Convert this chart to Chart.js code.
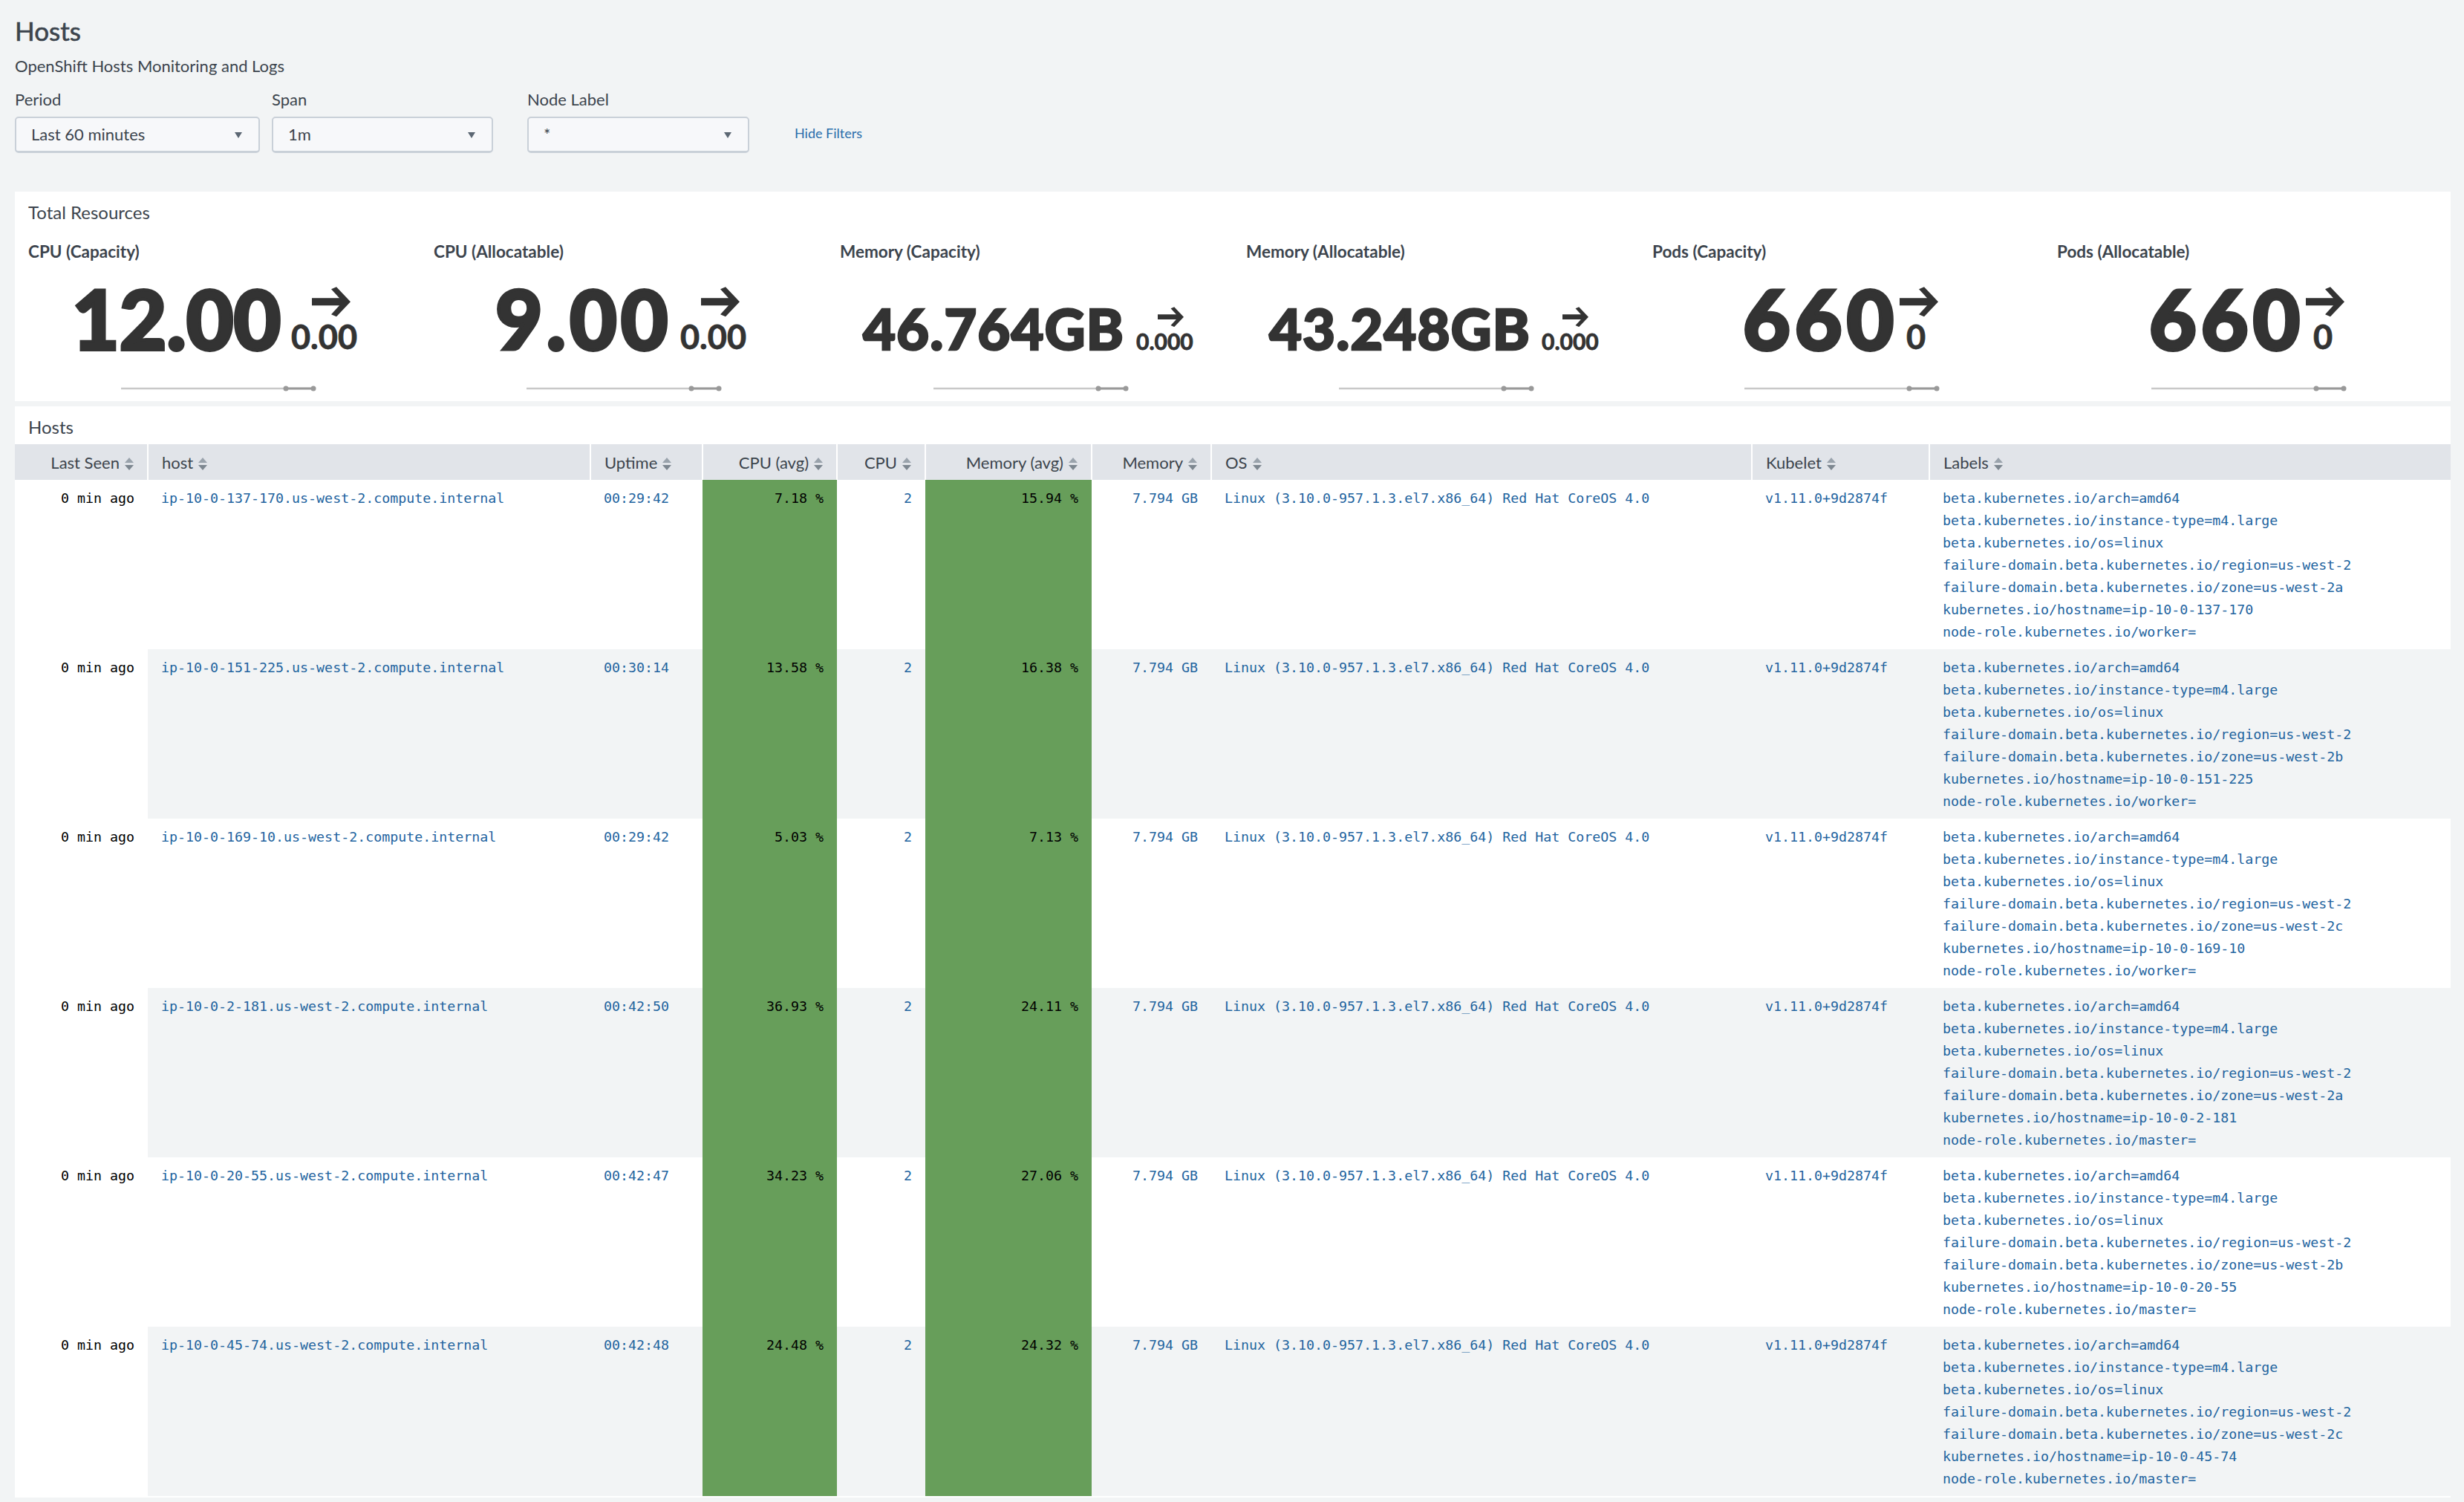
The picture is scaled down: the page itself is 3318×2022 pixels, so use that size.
<!DOCTYPE html>
<html>
<head>
<meta charset="utf-8">
<title>Hosts</title>
<script src="https://cdn.jsdelivr.net/npm/chart.js@4/dist/chart.umd.js"></script>
<style>
  html, body { margin: 0; padding: 0; width: 3318px; height: 2022px; overflow: hidden; background: #f2f4f5; }
  body { position: relative; font-family: Lato, sans-serif; color: #3c444d; }
  .abs { position: absolute; white-space: nowrap; }
  .panel { position: absolute; left: 20px; width: 3280px; background: #fff; }
  .select { position: absolute; top: 157px; height: 44px; background: #f7f8fa; border: 2px solid #c9d0d8; border-bottom-width: 3px; border-radius: 5px; box-sizing: content-box; }
  .select span { position: absolute; left: 20px; top: 8px; font-size: 22px; line-height: 28px; color: #3c444d; }
  .select i { position: absolute; right: 22px; top: 19px; border-left: 5px solid transparent; border-right: 5px solid transparent; border-top: 8px solid #5c6773; }
  canvas { position: absolute; }
  table { position: absolute; left: 20px; top: 598px; width: 3280px; border-collapse: collapse; table-layout: fixed; }
  th { height: 48px; padding: 0 18px; background: #e1e4e9; border-right: 2px solid #fff; font-size: 22px; font-weight: 400; color: #3c444d; box-sizing: border-box; white-space: nowrap; }
  th:last-child { border-right: 0; }
  th .sort { display: inline-block; width: 12px; height: 17px; margin-left: 7px; position: relative; vertical-align: -2px; }
  .sort::before, .sort::after { content: ''; position: absolute; left: 0; border-left: 6px solid transparent; border-right: 6px solid transparent; }
  .sort::before { top: 0; border-bottom: 7px solid #9aa3ac; }
  .sort::after { bottom: 0; border-top: 7px solid #7d8790; }
  td { height: 228px; padding: 10px 18px 0; box-sizing: border-box; vertical-align: top; font-family: "DejaVu Sans Mono", monospace; font-size: 18.3px; line-height: 30px; color: #23649f; white-space: nowrap; overflow: hidden; }
  tr:nth-child(even) td { background: #f2f4f5; }
  tr td:first-child { background: #fff !important; color: #000; }
  td.heat { color: #000; background: #679e5a !important; }
  .num { text-align: right; }
  .txt { text-align: left; }
</style>
</head>
<body>
<div class="abs" style="left:20px;top:19px;font-size:35px;line-height:44px;-webkit-text-stroke:0.6px #3c444d">Hosts</div>
<div class="abs" style="left:20px;top:74px;font-size:22px;line-height:30px">OpenShift Hosts Monitoring and Logs</div>
<div id="filters"></div>
<div class="abs" style="left:1070px;top:166px;font-size:18px;line-height:26px;color:#2a6dab">Hide Filters</div>

<div class="panel" style="top:258px;height:282px"></div>
<div class="abs" style="left:38px;top:271px;font-size:24px;line-height:30px">Total Resources</div>
<div id="singles"></div>

<div class="panel" style="top:547px;height:1469px"></div>
<div class="abs" style="left:38px;top:560px;font-size:24px;line-height:30px">Hosts</div>
<table id="hostsTable"></table>

<script>
// filter bar
const filterNames = ['Period', 'Span', 'Node Label'];
const filterValues = ['Last 60 minutes', '1m', '*'];

// single value panels
const singleTitles = ['CPU (Capacity)', 'CPU (Allocatable)', 'Memory (Capacity)', 'Memory (Allocatable)', 'Pods (Capacity)', 'Pods (Allocatable)'];
const singleValues = ['12.00', '9.00', '46.764GB', '43.248GB', '660', '660'];
const singleDeltas = ['0.00', '0.00', '0.000', '0.000', '0', '0'];

// sparkline series, flat over the whole period
const sparkLabels = ['1', '2', '3', '4', '5', '6', '7', '8'];
const sparkCpuCapacity = [12, 12, 12, 12, 12, 12, 12, 12];
const sparkCpuAllocatable = [9, 9, 9, 9, 9, 9, 9, 9];
const sparkMemCapacity = [46.764, 46.764, 46.764, 46.764, 46.764, 46.764, 46.764, 46.764];
const sparkMemAllocatable = [43.248, 43.248, 43.248, 43.248, 43.248, 43.248, 43.248, 43.248];
const sparkPodsCapacity = [660, 660, 660, 660, 660, 660, 660, 660];
const sparkPodsAllocatable = [660, 660, 660, 660, 660, 660, 660, 660];
const sparkSeries = [sparkCpuCapacity, sparkCpuAllocatable, sparkMemCapacity, sparkMemAllocatable, sparkPodsCapacity, sparkPodsAllocatable];

// hosts table
const hostColumns = ['Last Seen', 'host', 'Uptime', 'CPU (avg)', 'CPU', 'Memory (avg)', 'Memory', 'OS', 'Kubelet', 'Labels'];
const hostNames = ['ip-10-0-137-170', 'ip-10-0-151-225', 'ip-10-0-169-10', 'ip-10-0-2-181', 'ip-10-0-20-55', 'ip-10-0-45-74'];
const lastSeen = ['0 min ago', '0 min ago', '0 min ago', '0 min ago', '0 min ago', '0 min ago'];
const uptimes = ['00:29:42', '00:30:14', '00:29:42', '00:42:50', '00:42:47', '00:42:48'];
const cpuAvg = [7.18, 13.58, 5.03, 36.93, 34.23, 24.48];
const cpuCount = [2, 2, 2, 2, 2, 2];
const memAvg = [15.94, 16.38, 7.13, 24.11, 27.06, 24.32];
const memoryGb = [7.794, 7.794, 7.794, 7.794, 7.794, 7.794];
const osNames = Array(6).fill('Linux (3.10.0-957.1.3.el7.x86_64) Red Hat CoreOS 4.0');
const kubelets = Array(6).fill('v1.11.0+9d2874f');
const zones = ['a', 'b', 'c', 'a', 'b', 'c'];
const roles = ['worker', 'worker', 'worker', 'master', 'master', 'master'];

// layout, in page pixels
const filterX = [20, 366, 710];
const filterW = [326, 294, 295];
const columnWidths = [179, 596, 151, 181, 119, 224, 161, 728, 239, 702];
const columnAlign = ['num', 'txt', 'txt', 'num', 'num', 'num', 'num', 'txt', 'txt', 'txt'];
const titleX = [38, 584, 1131, 1678, 2225, 2770];
const valueX = [97, 667, 1162, 1709, 2347, 2894];
const valueSize = [110, 110, 76, 76, 110, 110];
const valueSpacing = [0, 5, 1, 1, 6, 6];
const deltaX = [392, 916, 1530, 2076, 2567, 3115];
const deltaSize = [45, 45, 30, 30, 45, 45];
const arrowX = [420, 944, 1559, 2104, 2558, 3105];
const arrowW = [52, 52, 35, 35, 52, 52];
const sparkX = [163, 709, 1257, 1803, 2349, 2897];
const baselineY = 471;

const addAbs = (parent, html, left, top, style) => {
  const el = document.createElement('div');
  el.className = 'abs';
  el.style.cssText = `left:${left}px;top:${top}px;${style || ''}`;
  el.innerHTML = html;
  parent.appendChild(el);
  return el;
};

const renderFilters = () => {
  const root = document.getElementById('filters');
  filterNames.forEach((name, i) => {
    addAbs(root, name, filterX[i], 119, 'font-size:22px;line-height:30px');
    const box = document.createElement('div');
    box.className = 'select';
    box.style.left = `${filterX[i]}px`;
    box.style.width = `${filterW[i]}px`;
    box.innerHTML = `<span>${filterValues[i]}</span><i></i>`;
    root.appendChild(box);
  });
};

const arrowSvg = (width) => {
  const height = width * 0.78;
  return `<svg width="${width}" height="${height}" viewBox="0 0 52 40"><path d="M0 15H37L26 3L33 0L52 20L33 40L26 37L37 25H0Z" fill="#333"/></svg>`;
};

const renderSingles = () => {
  const root = document.getElementById('singles');
  singleTitles.forEach((title, i) => {
    addAbs(root, title, titleX[i], 324, 'font-size:22.5px;line-height:30px;font-weight:700');
    const size = valueSize[i];
    const stroke = size > 100 ? 4 : 2.5;
    addAbs(root, singleValues[i], valueX[i], baselineY - 0.887 * size, `font-size:${size}px;line-height:${size}px;font-weight:900;color:#333;letter-spacing:${valueSpacing[i]}px;-webkit-text-stroke:${stroke}px #333`);
    const dSize = deltaSize[i];
    addAbs(root, singleDeltas[i], deltaX[i], baselineY - 0.887 * dSize, `font-size:${dSize}px;line-height:${dSize}px;font-weight:700;color:#333;-webkit-text-stroke:0.8px #333`);
    const arrowTop = size > 100 ? 386 : 413;
    addAbs(root, arrowSvg(arrowW[i]), arrowX[i], arrowTop);
  });
};

const renderSparklines = () => {
  sparkSeries.forEach((series, i) => {
    const canvas = document.createElement('canvas');
    canvas.width = 275;
    canvas.height = 30;
    canvas.style.left = `${sparkX[i] - 8}px`;
    canvas.style.top = '508px';
    document.body.appendChild(canvas);
    const lastTwo = series.map((v, j) => (j >= series.length - 2 ? v : null));
    new Chart(canvas, {
      type: 'line',
      data: {
        labels: sparkLabels,
        datasets: [
          { data: lastTwo, borderColor: '#999', borderWidth: 3, pointRadius: 3.5, pointBackgroundColor: '#999', pointBorderWidth: 0 },
          { data: series, borderColor: '#c8c8c8', borderWidth: 2.5, pointRadius: 0 },
        ],
      },
      options: {
        responsive: false,
        animation: false,
        layout: { padding: { left: 8, right: 8 } },
        plugins: { legend: { display: false }, tooltip: { enabled: false } },
        scales: {
          x: { display: false },
          y: { display: false, min: series[0] - 1, max: series[0] + 1 },
        },
      },
    });
  });
};

const renderTable = () => {
  const table = document.getElementById('hostsTable');
  const colgroup = columnWidths.map((w) => `<col style="width:${w}px">`).join('');
  const head = hostColumns.map((name, c) => `<th class="${columnAlign[c]}">${name}<span class="sort"></span></th>`).join('');
  const rows = hostNames.map((name, r) => {
    const labels = [
      'beta.kubernetes.io/arch=amd64',
      'beta.kubernetes.io/instance-type=m4.large',
      'beta.kubernetes.io/os=linux',
      'failure-domain.beta.kubernetes.io/region=us-west-2',
      `failure-domain.beta.kubernetes.io/zone=us-west-2${zones[r]}`,
      `kubernetes.io/hostname=${name}`,
      `node-role.kubernetes.io/${roles[r]}=`,
    ].join('<br>');
    const cells = [
      lastSeen[r],
      `${name}.us-west-2.compute.internal`,
      uptimes[r],
      `${cpuAvg[r].toFixed(2)} %`,
      cpuCount[r],
      `${memAvg[r].toFixed(2)} %`,
      `${memoryGb[r].toFixed(3)} GB`,
      osNames[r],
      kubelets[r],
      labels,
    ];
    const tds = cells.map((text, c) => {
      const heat = c === 3 || c === 5 ? ' heat' : '';
      return `<td class="${columnAlign[c]}${heat}">${text}</td>`;
    }).join('');
    return `<tr>${tds}</tr>`;
  }).join('');
  table.innerHTML = `<colgroup>${colgroup}</colgroup><thead><tr>${head}</tr></thead><tbody>${rows}</tbody>`;
};

renderFilters();
renderSingles();
renderSparklines();
renderTable();
</script>
</body>
</html>
